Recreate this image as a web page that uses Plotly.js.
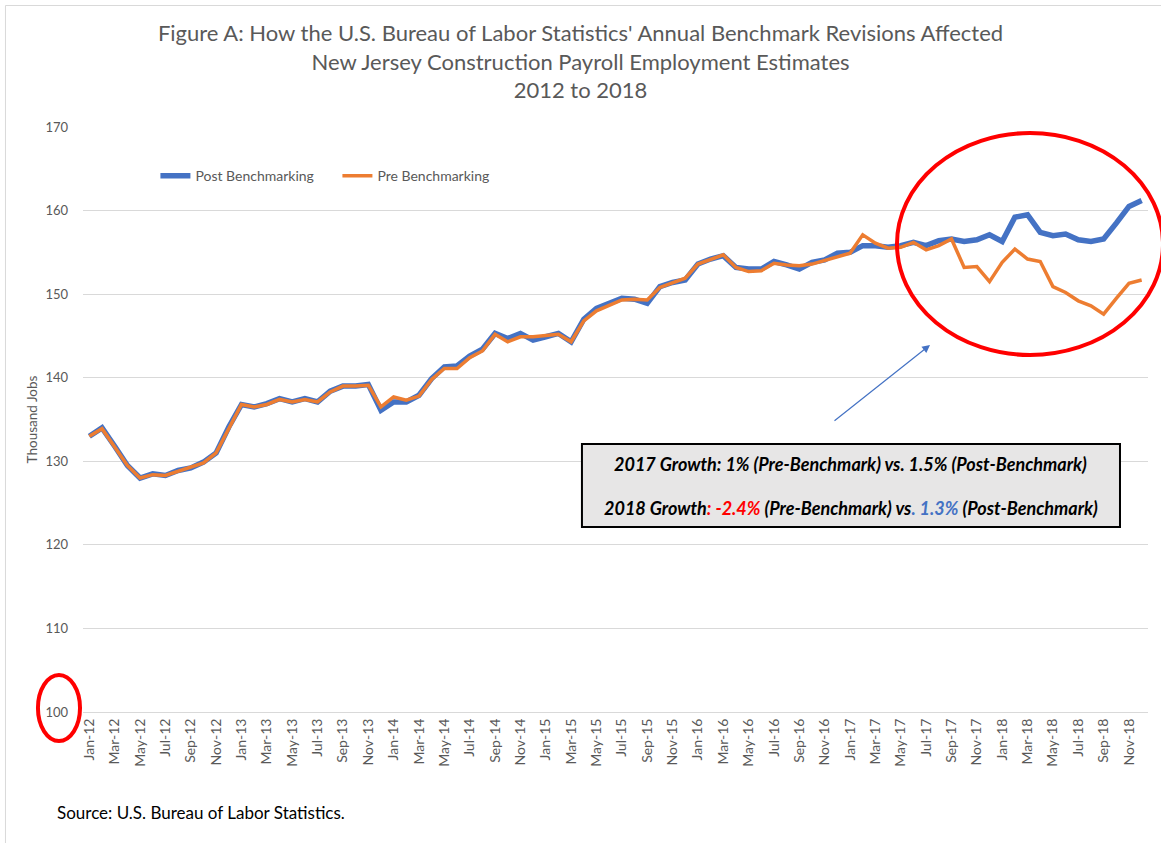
<!DOCTYPE html>
<html>
<head>
<meta charset="utf-8">
<script src="https://cdn.plot.ly/plotly-3.0.1.min.js"></script>
<style>
html,body{margin:0;padding:0;background:#fff;}
#chart{width:1161px;height:843px;}
</style>
</head>
<body>
<div id="chart"></div>
<script>
// ---- data ----
var monthNames = ["Jan","Feb","Mar","Apr","May","Jun","Jul","Aug","Sep","Oct","Nov","Dec"];
var yearLabels = ["12","13","14","15","16","17","18"];

var postBenchmarking = [
  133.0,134.0,131.8,129.5,128.0,128.5,128.3,128.9,129.2,129.9,131.0,134.1,
  136.8,136.5,136.9,137.5,137.1,137.5,137.1,138.4,139.0,139.0,139.2,136.1,
  137.1,137.1,137.9,139.9,141.3,141.4,142.6,143.4,145.3,144.7,145.3,144.5,
  144.9,145.3,144.3,147.0,148.3,148.9,149.5,149.4,148.9,150.9,151.4,151.7,
  153.6,154.2,154.6,153.2,153.0,153.0,153.9,153.5,153.0,153.8,154.1,154.9,
  155.0,155.8,155.8,155.6,155.8,156.2,155.8,156.4,156.6,156.3,156.5,157.1,
  156.3,159.2,159.5,157.4,157.0,157.2,156.5,156.3,156.6,158.5,160.5,161.2
];
var preBenchmarking = [
  133.0,133.9,131.7,129.5,128.0,128.4,128.3,128.8,129.2,129.8,131.0,134.0,
  136.8,136.5,136.8,137.4,137.1,137.4,137.1,138.3,139.0,139.0,139.1,136.5,
  137.7,137.3,137.8,139.8,141.1,141.1,142.4,143.2,145.2,144.3,144.9,144.9,
  145.0,145.2,144.3,146.8,148.0,148.7,149.3,149.4,149.3,150.8,151.3,151.9,
  153.6,154.1,154.7,153.2,152.7,152.8,153.7,153.5,153.4,153.6,154.0,154.5,
  154.9,157.1,156.1,155.5,155.6,156.2,155.3,155.8,156.6,153.2,153.3,151.5,
  153.8,155.4,154.2,153.9,150.9,150.2,149.2,148.6,147.6,149.5,151.3,151.7
];

var categories = [];
yearLabels.forEach(function(yy){
  monthNames.forEach(function(m){ categories.push(m + "-" + yy); });
});
var tickLabels = categories.filter(function(c, i){ return i % 2 === 0; });

var titleLines = [
  "Figure A: How the U.S. Bureau of Labor Statistics' Annual Benchmark Revisions Affected",
  "New Jersey Construction Payroll Employment Estimates",
  "2012 to 2018"
];
var seriesNames = ["Post Benchmarking", "Pre Benchmarking"];
var boxLine1 = "2017 Growth: 1% (Pre-Benchmark) vs. 1.5% (Post-Benchmark)";
var boxLine2 = "2018 Growth<span style='color:#ff0000'>: -2.4%</span> (Pre-Benchmark) vs<span style='color:#4472c4'>. 1.3%</span> (Post-Benchmark)";
var sourceText = "Source: U.S. Bureau of Labor Statistics.";

var FONT = "Lato, 'Open Sans', sans-serif";
var GREY = "#595959";

var traces = [
  {x: categories, y: postBenchmarking, type: "scatter", mode: "lines", name: seriesNames[0],
   line: {color: "#4472c4", width: 5.5}},
  {x: categories, y: preBenchmarking, type: "scatter", mode: "lines", name: seriesNames[1],
   line: {color: "#ed7d31", width: 3.5}}
];

var layout = {
  width: 1161, height: 843,
  margin: {l: 83, r: 13, t: 127, b: 131},
  paper_bgcolor: "#ffffff", plot_bgcolor: "#ffffff",
  font: {family: FONT, color: GREY, size: 13},
  title: {
    text: titleLines.join("<br>"),
    font: {family: FONT, size: 22, color: GREY},
    x: 0.5, xref: "container", xanchor: "center",
    y: 1 - 41/843, yref: "container", yanchor: "top"
  },
  showlegend: true,
  legend: {
    orientation: "h", x: 0.068, y: 0.916, xanchor: "left", yanchor: "middle",
    font: {family: FONT, size: 14, color: GREY},
    bgcolor: "rgba(0,0,0,0)", itemwidth: 30, entrywidth: 137, entrywidthmode: "pixels"
  },
  xaxis: {
    type: "category", range: [-0.5, 83.5],
    tickmode: "array", tickvals: tickLabels, ticktext: tickLabels,
    tickangle: -90,
    tickfont: {family: FONT, size: 14, color: GREY},
    showgrid: false, showline: true, linecolor: "#d9d9d9", linewidth: 1,
    ticks: "", zeroline: false, fixedrange: true
  },
  yaxis: {
    range: [100, 170], dtick: 10, tick0: 100,
    showgrid: true, gridcolor: "#d9d9d9", gridwidth: 1,
    zeroline: false, showline: false, ticks: "",
    ticklabelstandoff: 14,
    tickfont: {family: FONT, size: 13, color: GREY},
    title: {text: "Thousand Jobs", font: {family: FONT, size: 13.5, color: GREY}, standoff: 4}
  },
  shapes: [
    {type: "rect", xref: "paper", yref: "paper", x0: -0.0728, x1: 1.06, y0: -0.3, y1: 1.2077,
     line: {color: "#d9d9d9", width: 1}, layer: "below"},
    {type: "circle", xref: "paper", yref: "paper", x0: 0.7643, x1: 1.0141, y0: 0.6103, y1: 0.9897,
     line: {color: "#ff0000", width: 4}},
    {type: "circle", xref: "paper", yref: "paper", x0: -0.0423, x1: -0.0028, y0: -0.0496, y1: 0.0632,
     line: {color: "#ff0000", width: 4}},
    {type: "rect", xref: "paper", yref: "paper", x0: 0.4685, x1: 0.9737, y0: 0.3162, y1: 0.4581,
     fillcolor: "#e7e6e6", line: {color: "#000000", width: 2}}
  ],
  annotations: [
    {xref: "paper", yref: "paper", x: 0.7953, y: 0.6274, ax: -97, ay: 77, axref: "pixel", ayref: "pixel",
     showarrow: true, arrowhead: 2, arrowsize: 1.3, arrowwidth: 1.2, arrowcolor: "#4472c4", text: ""},
    {xref: "paper", yref: "paper", x: 0.7211, y: 0.4239, xanchor: "center", yanchor: "middle",
     showarrow: false, text: "<b><i>" + boxLine1 + "</i></b>",
     font: {family: FONT, size: 18, color: "#000000"}},
    {xref: "paper", yref: "paper", x: 0.7211, y: 0.3487, xanchor: "center", yanchor: "middle",
     showarrow: false, text: "<b><i>" + boxLine2 + "</i></b>",
     font: {family: FONT, size: 18, color: "#000000"}},
    {xref: "paper", yref: "paper", x: -0.0263, y: -0.171, xanchor: "left", yanchor: "middle",
     showarrow: false, text: sourceText,
     font: {family: FONT, size: 17, color: "#000000"}}
  ]
};

Plotly.newPlot("chart", traces, layout, {displayModeBar: false, staticPlot: true});
</script>
</body>
</html>
